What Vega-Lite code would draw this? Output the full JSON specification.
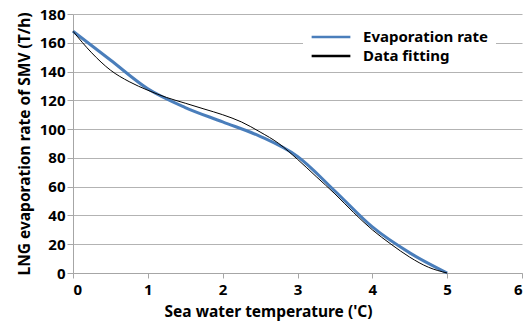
{
  "$schema": "https://vega.github.io/schema/vega-lite/v6.json",
  "width": 449,
  "height": 259,
  "autosize": {"type": "none"},
  "padding": {"left": 73, "top": 14, "right": 6, "bottom": 49},
  "background": "white",
  "config": {
    "view": {"stroke": null},
    "font": "Noto Sans",
    "axis": {
      "labelFont": "Noto Sans", "labelFontWeight": "bold", "labelFontSize": 15, "labelColor": "#000000",
      "titleFont": "Noto Sans", "titleFontWeight": "bold", "titleFontSize": 15.5, "titleColor": "#000000",
      "domainColor": "#a6a6a6", "tickColor": "#a6a6a6", "gridColor": "#b3b3b3", "gridWidth": 1
    }
  },
  "data": {"values": [
    {"series": "Evaporation rate", "x": 0, "y": 168},
    {"series": "Evaporation rate", "x": 0.5, "y": 148},
    {"series": "Evaporation rate", "x": 1, "y": 128},
    {"series": "Evaporation rate", "x": 1.5, "y": 115},
    {"series": "Evaporation rate", "x": 2, "y": 105},
    {"series": "Evaporation rate", "x": 2.5, "y": 95},
    {"series": "Evaporation rate", "x": 3, "y": 81},
    {"series": "Evaporation rate", "x": 3.5, "y": 57},
    {"series": "Evaporation rate", "x": 4, "y": 32},
    {"series": "Evaporation rate", "x": 4.5, "y": 14},
    {"series": "Evaporation rate", "x": 5, "y": 0},
    {"series": "Data fitting", "x": 0, "y": 168},
    {"series": "Data fitting", "x": 0.25, "y": 153},
    {"series": "Data fitting", "x": 0.5, "y": 141},
    {"series": "Data fitting", "x": 0.75, "y": 133},
    {"series": "Data fitting", "x": 1, "y": 127},
    {"series": "Data fitting", "x": 1.25, "y": 122},
    {"series": "Data fitting", "x": 1.5, "y": 118},
    {"series": "Data fitting", "x": 1.75, "y": 114},
    {"series": "Data fitting", "x": 2, "y": 110},
    {"series": "Data fitting", "x": 2.25, "y": 105},
    {"series": "Data fitting", "x": 2.5, "y": 98},
    {"series": "Data fitting", "x": 2.75, "y": 90},
    {"series": "Data fitting", "x": 3, "y": 79},
    {"series": "Data fitting", "x": 3.25, "y": 67},
    {"series": "Data fitting", "x": 3.5, "y": 55},
    {"series": "Data fitting", "x": 3.75, "y": 42},
    {"series": "Data fitting", "x": 4, "y": 30},
    {"series": "Data fitting", "x": 4.25, "y": 20},
    {"series": "Data fitting", "x": 4.5, "y": 11},
    {"series": "Data fitting", "x": 4.75, "y": 4},
    {"series": "Data fitting", "x": 5, "y": 0}
  ]},
  "encoding": {
    "x": {"field": "x", "type": "quantitative",
      "scale": {"domain": [0, 6], "nice": false},
      "axis": {"values": [0,1,2,3,4,5,6], "grid": false, "tickSize": 5, "labelPadding": 4,
        "title": "Sea water temperature ('C)", "titleX": 195, "titleY": 43, "titleBaseline": "alphabetic", "titleAnchor": "middle", "titleAlign": "center"}},
    "y": {"field": "y", "type": "quantitative",
      "scale": {"domain": [0, 180], "nice": false},
      "axis": {"values": [0,20,40,60,80,100,120,140,160,180], "grid": true, "tickSize": 6, "labelPadding": 2,
        "title": "LNG evaporation rate of SMV (T/h)", "titlePadding": 7}},
    "color": {"field": "series", "type": "nominal",
      "scale": {"domain": ["Evaporation rate", "Data fitting"], "range": ["#4a7ebb", "#000000"]},
      "legend": {"title": null, "orient": "none", "legendX": 230, "legendY": 8,
        "fillColor": "white", "padding": 7, "symbolType": "stroke", "symbolSize": 1500,
        "symbolStrokeWidth": 2.5, "clipHeight": 16, "rowPadding": 3,
        "labelFont": "Noto Sans", "labelFontWeight": "bold", "labelFontSize": 15, "labelColor": "#000000",
        "labelOffset": 11}}
  },
  "layer": [
    {"transform": [{"filter": "datum.series == 'Evaporation rate'"}],
     "mark": {"type": "line", "interpolate": "monotone", "strokeWidth": 3}},
    {"transform": [{"filter": "datum.series == 'Data fitting'"}],
     "mark": {"type": "line", "interpolate": "monotone", "strokeWidth": 1}}
  ]
}
